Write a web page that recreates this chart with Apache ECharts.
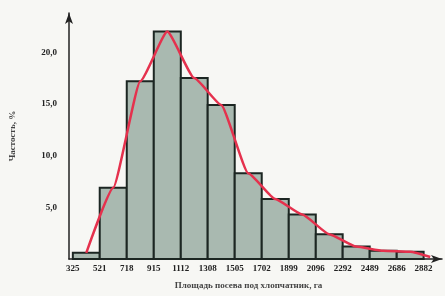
<!DOCTYPE html>
<html>
<head>
<meta charset="utf-8">
<script src="https://cdn.jsdelivr.net/npm/echarts@6/dist/echarts.min.js"></script>
<style>
    html, body { margin: 0; padding: 0; background: #f7f7f4; }
    #chart { width: 445px; height: 296px; }
</style>
</head>
<body>
<div id="chart"></div>
<script>
(function() {
    'use strict';

    // границы интервалов (подписи оси X)
    var edges = [325, 521, 718, 915, 1112, 1308, 1505, 1702, 1899, 2096, 2292, 2489, 2686, 2882];
    var edgeLabels = ['325', '521', '718', '915', '1112', '1308', '1505', '1702', '1899', '2096', '2292', '2489', '2686', '2882'];

    // частость по интервалам, %
    var freq = [0.6, 6.9, 17.2, 22.0, 17.5, 14.9, 8.3, 5.8, 4.3, 2.4, 1.2, 0.8, 0.7];

    // хвост полигона за последним интервалом
    var polyTail = [2930, 0.2];

    var yTicks = [5, 10, 15, 20];

    var bins = [];
    var poly = [];
    for (var i = 0; i < freq.length; i++) {
        bins.push([edges[i], edges[i + 1], freq[i]]);
        poly.push([(edges[i] + edges[i + 1]) / 2, freq[i]]);
    }
    poly.push(polyTail);

    var font = '"Liberation Serif", "DejaVu Serif", serif';

    var myChart = echarts.init(document.getElementById('chart'));

    myChart.setOption({
        backgroundColor: '#f7f7f4',
        animation: false,
        grid: { left: 57, right: 3, top: 13, bottom: 37 },
        xAxis: {
            type: 'value',
            min: 297,
            max: 3016,
            name: 'Площадь посева под хлопчатник, га',
            nameLocation: 'middle',
            nameGap: 22,
            nameTextStyle: { fontFamily: font, fontSize: 9, fontWeight: 'bold', color: '#444', padding: [0, 14, 0, 0] },
            axisLine: {
                lineStyle: { color: '#222', width: 1.5 },
                symbol: ['none', 'arrow'],
                symbolSize: [6, 11]
            },
            axisTick: { show: false },
            splitLine: { show: false },
            axisLabel: {
                customValues: edges,
                margin: 5,
                fontFamily: font,
                fontSize: 9,
                fontWeight: 'bold',
                color: '#222',
                formatter: function(v) {
                    var k = edges.indexOf(v);
                    return k >= 0 ? edgeLabels[k] : '';
                }
            }
        },
        yAxis: {
            type: 'value',
            min: 0,
            max: 23.8,
            name: 'Частость, %',
            nameLocation: 'middle',
            nameGap: 40,
            nameRotate: 90,
            nameTextStyle: { fontFamily: font, fontSize: 9, fontWeight: 'bold', color: '#444', padding: [0, 0, 12, 0] },
            axisLine: {
                show: true,
                lineStyle: { color: '#222', width: 1.5 },
                symbol: ['none', 'arrow'],
                symbolSize: [6, 11]
            },
            axisTick: { show: false },
            splitLine: { show: false },
            axisLabel: {
                customValues: yTicks,
                margin: 12,
                fontFamily: font,
                fontSize: 9,
                fontWeight: 'bold',
                color: '#222',
                formatter: function(v) {
                    return v.toFixed(1).replace('.', ',');
                }
            }
        },
        series: [
            {
                type: 'custom',
                data: bins,
                encode: { x: [0, 1], y: 2 },
                renderItem: function(params, api) {
                    var p0 = api.coord([api.value(0), 0]);
                    var p1 = api.coord([api.value(1), api.value(2)]);
                    return {
                        type: 'rect',
                        shape: { x: p0[0], y: p1[1], width: p1[0] - p0[0], height: p0[1] - p1[1] },
                        style: { fill: '#a9b9b0', stroke: '#1c2622', lineWidth: 2 }
                    };
                },
                z: 2
            },
            {
                type: 'line',
                data: poly,
                smooth: 0.15,
                smoothMonotone: 'x',
                symbol: 'none',
                lineStyle: { color: '#e5314d', width: 2.5 },
                z: 3
            }
        ]
    });
})();
</script>
</body>
</html>
